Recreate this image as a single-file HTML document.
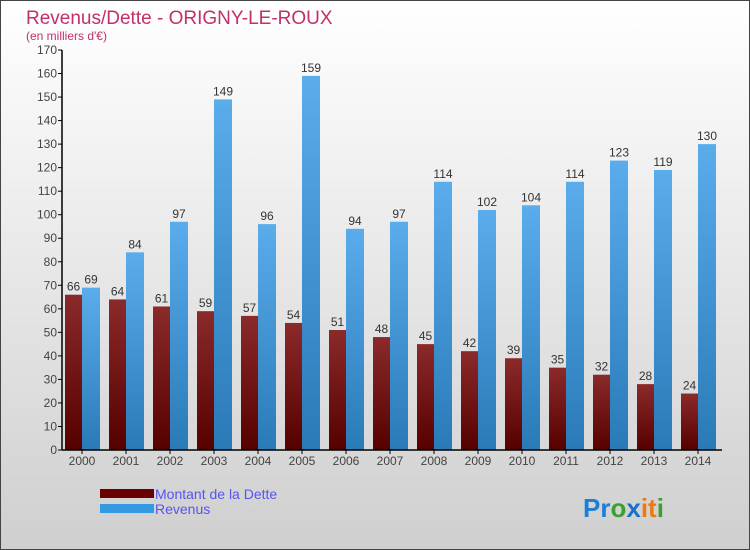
<!DOCTYPE html>
<html><head><meta charset="utf-8"><style>
body{margin:0;width:750px;height:550px;overflow:hidden}
#c{position:absolute;left:0;top:0;width:748px;height:548px;border:1px solid #444;background:linear-gradient(#ffffff,#cfcfcf)}
</style></head><body>
<div id="c">
<svg id="s" width="750" height="550" style="position:absolute;left:-1px;top:-1px" font-family="Liberation Sans, sans-serif">
<defs>
<linearGradient id="gd" x1="0" y1="0" x2="0" y2="1"><stop offset="0" stop-color="#8b2a2a"/><stop offset="1" stop-color="#560000"/></linearGradient>
<linearGradient id="gr" x1="0" y1="0" x2="0" y2="1"><stop offset="0" stop-color="#5aaceb"/><stop offset="1" stop-color="#2a7ab8"/></linearGradient>
</defs>
<text x="26" y="24" font-size="19" fill="#c0306a">Revenus/Dette - ORIGNY-LE-ROUX</text>
<text x="26" y="40" font-size="12" fill="#c0306a">(en milliers d'€)</text>
<g id="plot"></g>
<rect x="100" y="489" width="54" height="9" fill="#6b0000"/>
<text x="155" y="499" font-size="14" fill="#5555ee">Montant de la Dette</text>
<rect x="100" y="504" width="54" height="9" fill="#3399e0"/>
<text x="155" y="514" font-size="14" fill="#5555ee">Revenus</text>
<text x="583" y="517" font-size="26" font-weight="bold"><tspan fill="#1a7fd6">Pr</tspan><tspan fill="#3aa030">o</tspan><tspan fill="#1a6fd0">x</tspan><tspan fill="#f07a10">it</tspan><tspan fill="#3aa030">i</tspan></text>
</svg></div>
<script>
const categories=["2000","2001","2002","2003","2004","2005","2006","2007","2008","2009","2010","2011","2012","2013","2014"];
const dette=[66,64,61,59,57,54,51,48,45,42,39,35,32,28,24];
const revenus=[69,84,97,149,96,159,94,97,114,102,104,114,123,119,130];
const yTicks=[0,10,20,30,40,50,60,70,80,90,100,110,120,130,140,150,160,170];
const NS="http://www.w3.org/2000/svg";
const g=document.getElementById('plot');
const y=v=>450-v*400/170;
const x=i=>62+i*44;
function mk(t,a,txt){const e=document.createElementNS(NS,t);for(const k in a)e.setAttribute(k,a[k]);if(txt!=null)e.textContent=txt;g.appendChild(e);return e;}
yTicks.forEach(t=>{
 let l=mk('line',{x1:58,x2:62,y1:y(t),y2:y(t),stroke:'#000'});
 
 
 let tx=mk('text',{x:57,y:y(t)+4,'font-size':12,fill:'#444','text-anchor':'end'},t);
 
 
});
categories.forEach((c,i)=>{
 let b1=mk('rect',{x:x(i)+3,y:y(dette[i]),width:17,height:450-y(dette[i]),fill:'url(#gd)'});
 
 
 let b2=mk('rect',{x:x(i)+20,y:y(revenus[i]),width:18,height:450-y(revenus[i]),fill:'url(#gr)'});
 
 
 let v1=mk('text',{x:x(i)+11.5,y:y(dette[i])-4,'font-size':12,fill:'#333','text-anchor':'middle'},dette[i]);
 
 
 let v2=mk('text',{x:x(i)+29,y:y(revenus[i])-4,'font-size':12,fill:'#333','text-anchor':'middle'},revenus[i]);
 
 
 let tk=mk('line',{x1:x(i)+20,x2:x(i)+20,y1:450,y2:454,stroke:'#000'});
 
 
 let lb=mk('text',{x:x(i)+20,y:465,'font-size':12,fill:'#444','text-anchor':'middle'},c);
 
 
});
let ya=mk('line',{x1:62,x2:62,y1:y(170),y2:450,stroke:'#000','stroke-width':1.5});


let xa=mk('line',{x1:62,x2:722,y1:450,y2:450,stroke:'#000','stroke-width':1.5});


</script>
</body></html>
